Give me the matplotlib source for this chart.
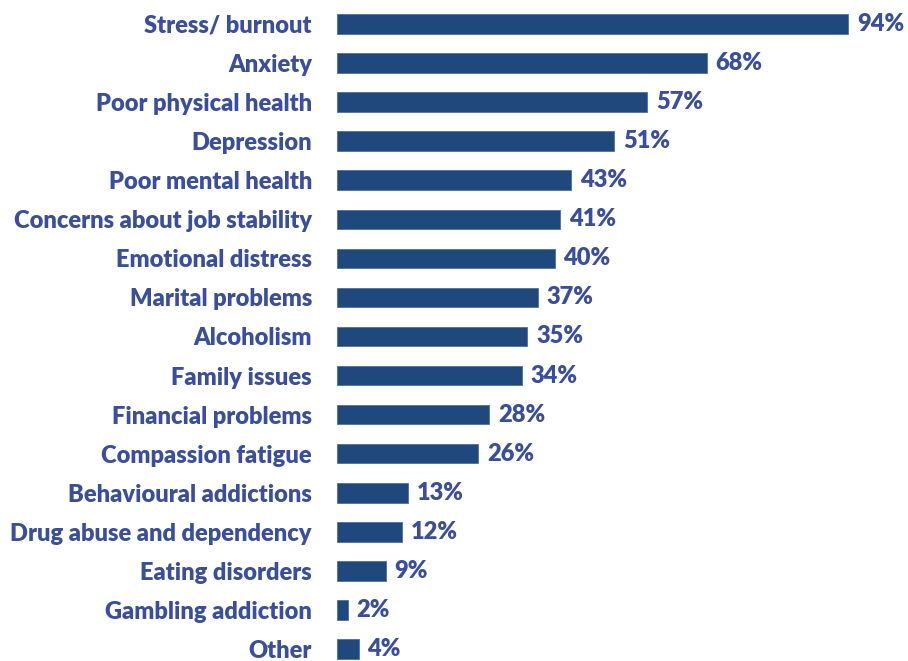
import matplotlib.pyplot as plt

# Reported wellbeing issues, share of respondents (%)
issues = [
    "Stress/ burnout", "Anxiety", "Poor physical health", "Depression",
    "Poor mental health", "Concerns about job stability", "Emotional distress",
    "Marital problems", "Alcoholism", "Family issues", "Financial problems",
    "Compassion fatigue", "Behavioural addictions", "Drug abuse and dependency",
    "Eating disorders", "Gambling addiction", "Other",
]
shares = [94, 68, 57, 51, 43, 41, 40, 37, 35, 34, 28, 26, 13, 12, 9, 2, 4]

bar_color = "#1F497D"
text_color = "#3A4F9C"

plt.rcParams['font.family'] = ['Lato', 'DejaVu Sans']

fig = plt.figure(figsize=(9.08, 6.61), dpi=100)
ax = fig.add_axes([337 / 908, 0, 544 / 908, 1])

pos = list(range(len(issues)))
ax.barh(pos, shares, height=0.5, color=bar_color, edgecolor="#4F6FA0", linewidth=0.6)

for y, v in zip(pos, shares):
    ax.text(v + 1.6, y, f"{v}%", va="center", ha="left", fontsize=17,
            fontweight="heavy", color=text_color)

ax.set_xlim(0, 100)
ax.set_ylim(16.307, -0.614)
ax.set_yticks(pos)
ax.set_yticklabels(issues, fontsize=17, fontweight="heavy", color=text_color)
ax.tick_params(axis="y", length=0, pad=18)
ax.set_xticks([])
for s in ax.spines.values():
    s.set_visible(False)

fig.savefig("out.png", dpi=100)
